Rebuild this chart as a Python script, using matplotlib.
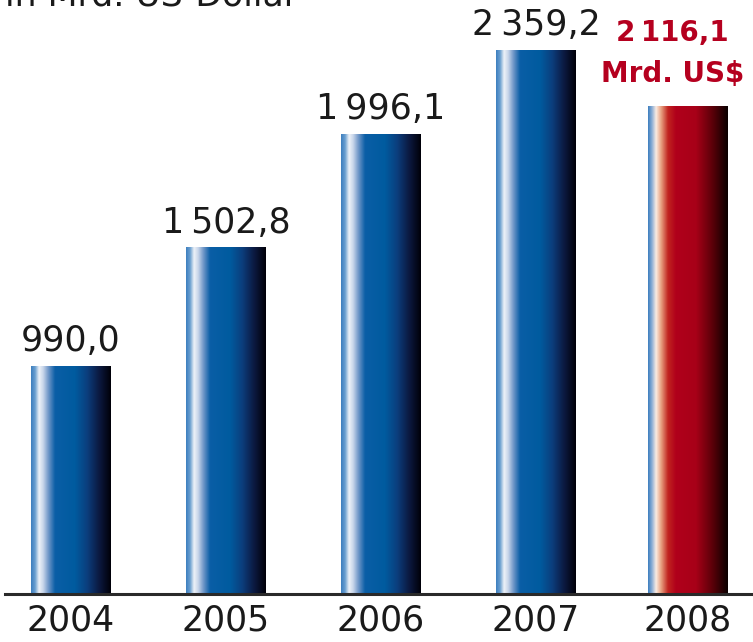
import numpy as np
import matplotlib
matplotlib.use('Agg')
import matplotlib.pyplot as plt
from matplotlib.colors import LinearSegmentedColormap

# data
years = ['2004', '2005', '2006', '2007', '2008']
values = [990.0, 1502.8, 1996.1, 2359.2, 2116.1]
value_labels = ['990,0', '1\u2009502,8', '1\u2009996,1', '2\u2009359,2', '2\u2009116,1']
unit_label = 'Mrd. US$'
subtitle = 'in Mrd. US-Dollar'

# gradients across each bar (left light edge -> dark right edge)
blue_cmap = LinearSegmentedColormap.from_list('blue_bar', [
    (0.00, '#3d7fbf'), (0.05, '#6a9fd0'), (0.10, '#eef2f8'), (0.15, '#c9d6ea'),
    (0.22, '#6d95c7'), (0.30, '#0a5ea6'), (0.55, '#005b9f'), (0.70, '#0b3f7e'),
    (0.85, '#0c1a42'), (1.00, '#000008')])
red_cmap = LinearSegmentedColormap.from_list('red_bar', [
    (0.00, '#3d7fbf'), (0.05, '#8fb0d6'), (0.10, '#fbece3'), (0.16, '#e9a584'),
    (0.25, '#c1241f'), (0.35, '#b0001b'), (0.60, '#a80018'), (0.80, '#5e0009'),
    (1.00, '#0a0000')])

fig = plt.figure(figsize=(7.53, 6.42), dpi=100)
ax = fig.add_axes([0, 0, 1, 1])
ax.axis('off')

px_x = 155.0          # pixels per category
px_y = 0.2303         # pixels per unit
x0 = 71.0 / px_x
y0 = 48.0 / px_y
xlim = (-x0, 753 / px_x - x0)
ylim = (-y0, 642 / px_y - y0)

grad = np.linspace(0, 1, 256).reshape(1, -1)
bar_w = 0.516
for i, v in enumerate(values):
    cmap = red_cmap if i == len(values) - 1 else blue_cmap
    xc = i - 0.02 * (i == 4)
    ax.imshow(grad, cmap=cmap, aspect='auto', interpolation='bilinear',
              extent=(xc - bar_w / 2, xc + bar_w / 2, 0, v), zorder=2)

ax.set_xlim(*xlim)
ax.set_ylim(*ylim)

ax.axhline(0, xmin=5 / 753, xmax=1, color='#2a2a2a', lw=2.2, zorder=3)

for i, (v, lab) in enumerate(zip(values, value_labels)):
    if i == len(values) - 1:
        red = dict(textcoords='offset points', ha='center', va='baseline',
                   fontsize=20, fontweight='bold', color='#b5001f',
                   family='DejaVu Sans')
        ax.annotate(lab, (i - 0.12, v), xytext=(0, 47), **red)
        ax.annotate(unit_label, (i - 0.12, v), xytext=(0, 17.5), **red)
    else:
        ax.annotate(lab, (i, v), xytext=(0, 6), textcoords='offset points',
                    ha='center', va='bottom', fontsize=25, color='#1a1a1a',
                    family='DejaVu Sans')

for i, yr in enumerate(years):
    ax.text(i - 0.02 * (i == 4), -113, yr, ha='center', va='center',
            fontsize=25, color='#1a1a1a', family='Liberation Sans Narrow')

fig.text(5 / 753, 1 - 6 / 642, subtitle, ha='left', va='baseline',
         fontsize=25, color='#1a1a1a', family='DejaVu Sans')

fig.savefig('out.png', dpi=100)
